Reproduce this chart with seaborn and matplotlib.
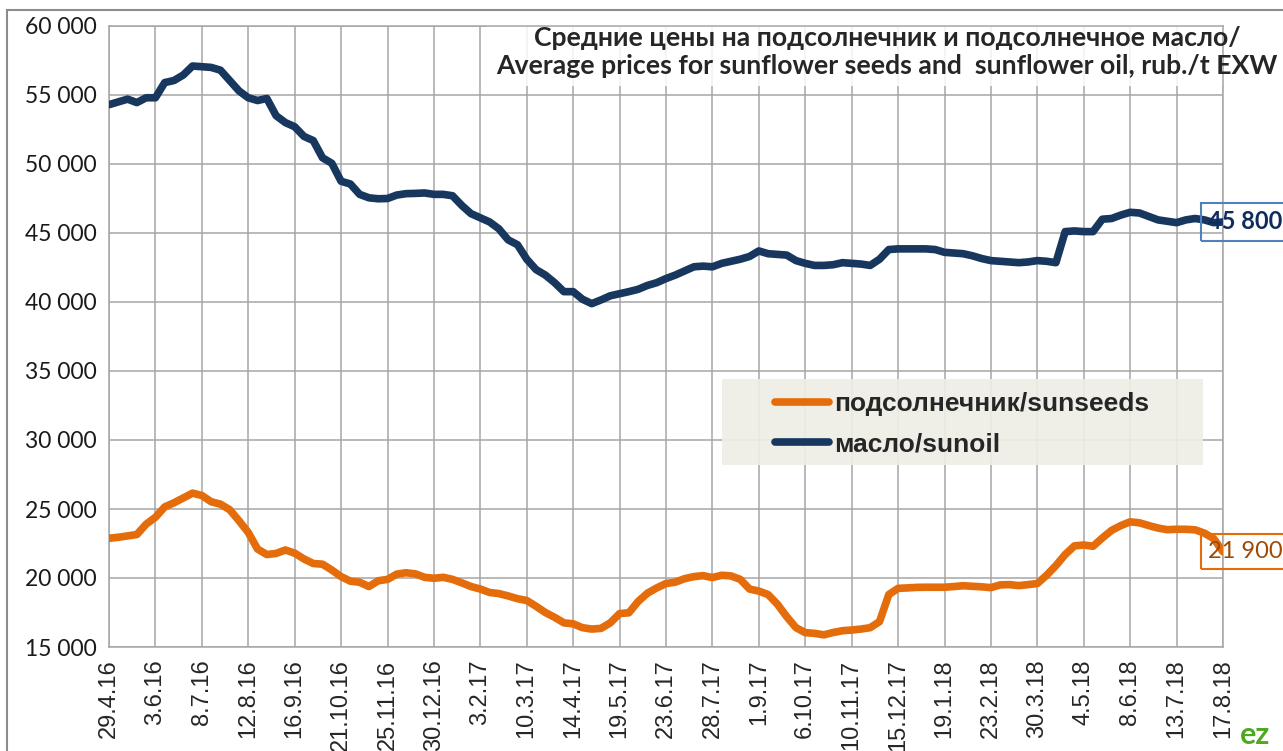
"""Average prices for sunflower seeds and sunflower oil, weekly, rub./t EXW."""
import numpy as np
import pandas as pd
import matplotlib
matplotlib.use("Agg")
import matplotlib.pyplot as plt
from matplotlib.patches import Rectangle
import seaborn as sns

SERIES_SEEDS = "подсолнечник/sunseeds"
SERIES_OIL = "масло/sunoil"

# weekly values, 29.4.16 .. 17.8.18 (121 weeks)
seeds = [
    22880, 22950, 23050, 23150, 23900, 24400, 25150, 25450, 25800, 26150,
    25980, 25530, 25350, 24950, 24150, 23300, 22100, 21700, 21780, 22030,
    21800, 21380, 21050, 21000, 20580, 20100, 19770, 19690, 19380, 19800,
    19900, 20280, 20380, 20300, 20050, 19980, 20050, 19900, 19650, 19380,
    19200, 18950, 18870, 18700, 18500, 18370, 17950, 17500, 17150, 16750,
    16680, 16400, 16300, 16350, 16750, 17420, 17480, 18300, 18900, 19280,
    19600, 19700, 19950, 20100, 20170, 20030, 20200, 20150, 19900, 19200,
    19050, 18800, 18100, 17200, 16400, 16040, 15990, 15880, 16050, 16180,
    16230, 16300, 16400, 16840, 18800, 19250, 19280, 19320, 19330, 19330,
    19330, 19380, 19440, 19400, 19360, 19300, 19500, 19520, 19450, 19520,
    19600, 20200, 20900, 21700, 22330, 22390, 22300, 22900, 23450, 23800,
    24070, 24000, 23800, 23620, 23500, 23530, 23530, 23490, 23250, 22850,
    21900,
]
oil = [
    54300, 54500, 54700, 54450, 54800, 54800, 55900, 56050, 56450, 57100,
    57050, 57000, 56800, 56050, 55300, 54800, 54600, 54750, 53500, 53000,
    52700, 52000, 51700, 50450, 50050, 48750, 48550, 47800, 47550, 47480,
    47500, 47750, 47850, 47870, 47900, 47800, 47800, 47700, 47000, 46400,
    46100, 45800, 45300, 44500, 44150, 43100, 42350, 41950, 41400, 40750,
    40750, 40200, 39880, 40150, 40450, 40600, 40750, 40920, 41200, 41400,
    41700, 41950, 42250, 42550, 42600, 42550, 42800, 42950, 43100, 43300,
    43700, 43500, 43450, 43400, 43000, 42800, 42650, 42650, 42700, 42850,
    42800, 42750, 42650, 43100, 43800, 43850, 43850, 43850, 43850, 43800,
    43600, 43550, 43500, 43350, 43150, 43000, 42950, 42900, 42850, 42900,
    43000, 42950, 42850, 45100, 45150, 45100, 45100, 46000, 46050, 46300,
    46500, 46450, 46200, 45950, 45850, 45750, 45950, 46050, 45950, 45750,
    45800,
]
tick_labels = [
    "29.4.16", "3.6.16", "8.7.16", "12.8.16", "16.9.16", "21.10.16",
    "25.11.16", "30.12.16", "3.2.17", "10.3.17", "14.4.17", "19.5.17",
    "23.6.17", "28.7.17", "1.9.17", "6.10.17", "10.11.17", "15.12.17",
    "19.1.18", "23.2.18", "30.3.18", "4.5.18", "8.6.18", "13.7.18", "17.8.18",
]
end_labels = {SERIES_SEEDS: "21 900", SERIES_OIL: "45 800"}

ORANGE = "#E46C0A"
NAVY = "#17375E"
GRID = "#A6A6A6"


def main():
    sns.set_style("white")
    plt.rcParams["font.family"] = ["Lato", "DejaVu Sans"]

    n = len(seeds)
    df = pd.DataFrame({
        "week": np.tile(np.arange(n), 2),
        "price": seeds + oil,
        "series": [SERIES_SEEDS] * n + [SERIES_OIL] * n,
    })

    fig = plt.figure(figsize=(12.83, 7.51), dpi=100)
    ax = fig.add_axes([109 / 1283, 1 - 647 / 751, (1223 - 109) / 1283, (647 - 26) / 751])

    # outer chart frame (Excel chart area)
    fig.patches.append(Rectangle((7 / 1283, -0.05), 1.2, 1 - 10 / 751 + 0.05,
                                 transform=fig.transFigure, fill=False,
                                 edgecolor="#8C8C8C", lw=1.5, zorder=0))

    sns.lineplot(data=df, x="week", y="price", hue="series",
                 palette={SERIES_SEEDS: ORANGE, SERIES_OIL: NAVY},
                 linewidth=5.5, ax=ax, legend=False, zorder=3)
    for line in ax.get_lines():
        line.set_solid_capstyle("round")
        line.set_solid_joinstyle("round")

    ax.set_xlim(0, n - 1)
    ax.set_ylim(15000, 60000)
    ax.set_xticks(np.arange(0, n, 5))
    ax.set_xticklabels(tick_labels, rotation=90, fontsize=17,
                       family=["Liberation Sans", "DejaVu Sans"])
    yt = np.arange(15000, 60001, 5000)
    ax.set_yticks(yt)
    ax.set_yticklabels([f"{v:,}".replace(",", " ") for v in yt], fontsize=16.5,
                       color="#1a1a1a")
    ax.set_xlabel("")
    ax.set_ylabel("")
    ax.grid(True, color=GRID, lw=1.1)
    ax.set_axisbelow(True)
    for s in ax.spines.values():
        s.set_color(GRID)
        s.set_linewidth(1.1)
    ax.tick_params(axis="both", direction="out", length=6, width=1.1,
                   color=GRID, pad=3)

    # title with translucent white backing
    ax.add_patch(Rectangle(((487 - 109) / 1114, (647 - 86) / 621), 1.2, 0.2,
                           transform=ax.transAxes, facecolor="white",
                           edgecolor="none", alpha=0.85, zorder=2, clip_on=False))
    fig.text(887 / 1283, 1 - 52 / 751,
             "Средние цены на подсолнечник и подсолнечное масло/\n"
             "Average prices for sunflower seeds and  sunflower oil, rub./t EXW",
             ha="center", va="center", fontsize=19.2, fontweight="bold",
             linespacing=1.22, zorder=5)

    # legend box
    ax.add_patch(Rectangle(((722 - 109) / 1114, (647 - 465) / 621),
                           (1203 - 722) / 1114, (465 - 379) / 621,
                           transform=ax.transAxes, facecolor="#EEEEE6",
                           edgecolor="none", alpha=0.92, zorder=2))
    handles = [plt.Line2D([], [], color=ORANGE, lw=5.5, solid_capstyle="round"),
               plt.Line2D([], [], color=NAVY, lw=5.5, solid_capstyle="round")]
    leg = ax.legend(handles, [SERIES_SEEDS, SERIES_OIL], loc="center left",
                    bbox_to_anchor=((775 - 109) / 1114, (647 - 424) / 621),
                    frameon=False, borderpad=0, borderaxespad=0,
                    handlelength=2.05, handletextpad=0.18, labelspacing=0.62,
                    prop={"family": ["Liberation Sans", "DejaVu Sans"],
                          "weight": "bold", "size": 19})
    leg.set_zorder(4)

    # end-value labels
    ax.annotate(end_labels[SERIES_OIL], xy=(n - 1, oil[-1]), xytext=(-11, 0),
                textcoords="offset points", ha="left", va="center",
                fontsize=17, fontweight="bold", color="#0F2D5C",
                annotation_clip=False, zorder=6,
                bbox=dict(boxstyle="square,pad=0.3", facecolor="none",
                          edgecolor="#4F81BD", lw=1.5))
    ax.annotate(end_labels[SERIES_SEEDS], xy=(n - 1, seeds[-1]), xytext=(-11, 0),
                textcoords="offset points", ha="left", va="center",
                fontsize=17, color="#9C4A06",
                annotation_clip=False, zorder=6,
                bbox=dict(boxstyle="square,pad=0.3", facecolor="none",
                          edgecolor=ORANGE, lw=1.5))

    # source logo in the corner
    fig.text(1240 / 1283, 0.002, "ez", color="#4DAA1F", fontsize=22,
             fontweight="bold", ha="left", va="bottom")

    fig.savefig("out.png", dpi=100)
    plt.close(fig)


if __name__ == "__main__":
    main()
